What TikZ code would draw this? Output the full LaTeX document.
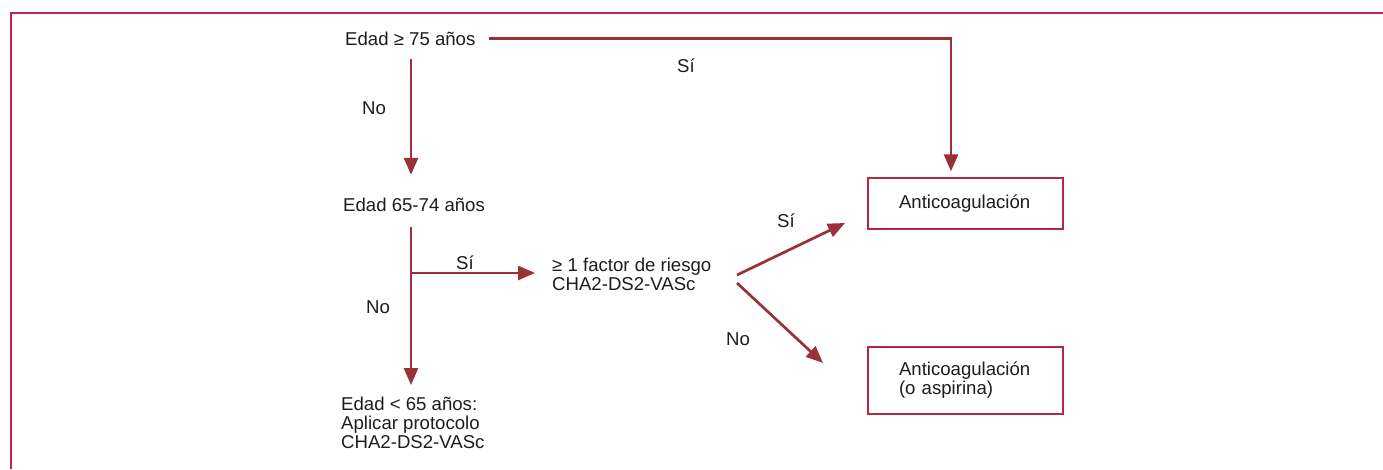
\documentclass[tikz,border=0pt]{standalone}
\usepackage{fontspec}
\setmainfont{Liberation Sans}
\usetikzlibrary{arrows.meta,calc}
\definecolor{framec}{RGB}{200,30,80}
\definecolor{arrc}{RGB}{155,48,56}
\definecolor{boxc}{RGB}{180,40,65}
\definecolor{txt}{RGB}{30,28,30}
\begin{document}
\begin{tikzpicture}[x=1pt,y=-1pt, font=\fontsize{18.6}{19}\selectfont, text=txt,
 lbl/.style={inner sep=0pt, text height=13pt, text depth=4pt, anchor=base west},
 multi/.style={inner sep=0pt, align=left, anchor=north west},
 arr/.style={draw=arrc, line width=2.7pt, -{Triangle[width=14pt,length=17pt]}},
 box/.style={draw=boxc, line width=1.4pt, minimum width=195pt, minimum height=51pt, inner xsep=31pt, text width=133pt, align=left}]
\useasboundingbox (0,0) rectangle (1383,469);
\draw[framec, line width=2pt] (11,469) -- (11,13) -- (1383,13);
% text nodes
\node[lbl] (n75) at (345,45) {Edad ≥ 75 años};
\node[lbl] (n6574) at (343,211) {Edad 65-74 años};
\node[multi] (nfac) at (552,258) {≥ 1 factor de riesgo\\CHA2-DS2-VASc};
\node[multi] (nlt) at (341,397) {Edad < 65 años:\\Aplicar protocolo\\CHA2-DS2-VASc};
% labels
\node[lbl] (ls1) at (677,72) {Sí};
\node[lbl] (ln1) at (362,114) {No};
\node[lbl] (ls2) at (456,269) {Sí};
\node[lbl] (ln2) at (366,313) {No};
\node[lbl] (ls3) at (777,227) {Sí};
\node[lbl] (ln3) at (726,345) {No};
% boxes
\node[box] (b1) at (965.5,203.5) {Anticoagulación};
\node[box, minimum height=67pt] (b2) at (965.5,380.5) {Anticoagulación\\(o aspirina)};
% connectors
\coordinate (vx) at (411,0);
\coordinate (k1) at (951,0);
\draw[arr, shorten <=13pt, shorten >=6pt] ([yshift=2pt]n75.east) -| (k1 |- b1.north);
\draw[arr, shorten <=10pt, shorten >=23pt] (n75.south -| vx) -- (n6574.north -| vx);
\draw[arr, shorten <=12pt, shorten >=12pt] (n6574.south -| vx) -- (nlt.north -| vx);
\coordinate (br) at (411,273);
\draw[arr, shorten >=17pt] (br) -- (nfac.west |- br);
\coordinate (d1) at (737,275);
\coordinate (t1) at (845,223);
\coordinate (d2) at (737,283);
\coordinate (t2) at (823,363);
\draw[arr] (d1) -- (t1);
\draw[arr] (d2) -- (t2);
\end{tikzpicture}
\end{document}
